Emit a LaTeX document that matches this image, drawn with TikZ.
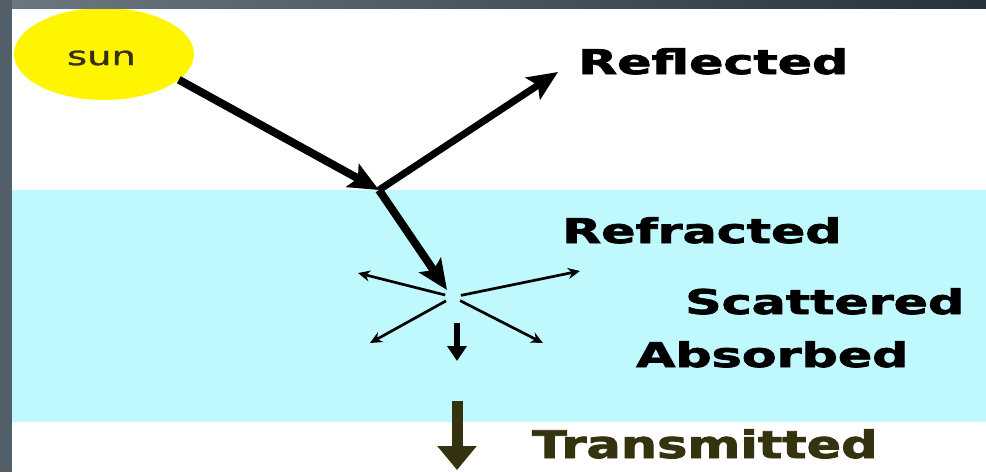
\documentclass[tikz,border=0pt]{standalone}
\usepackage{fontspec}
\setmainfont{DejaVu Sans}
\newfontfamily\heavyfont[FakeBold=2]{DejaVu Sans Bold}
\newfontfamily\sunfont[FakeBold=1]{DejaVu Sans}
\usetikzlibrary{shapes.geometric,arrows.meta}

\definecolor{framegray}{HTML}{525E68}
\definecolor{frametop}{HTML}{6C7881}
\definecolor{frameend}{HTML}{28323D}
\definecolor{water}{HTML}{C0F9FD}
\definecolor{sunyellow}{HTML}{FFF500}
\definecolor{olive}{HTML}{35330F}

\tikzset{
  lbl/.style={anchor=base west, inner sep=0pt, font=\heavyfont\fontsize{34}{34}\selectfont},
  beam/.style={line width=8pt, -{Stealth[length=30pt,width=26pt,inset=6pt]}},
  scatterbeam/.style={line width=2.7pt, shorten <=8pt, -{Stealth[length=12pt,width=11pt]}},
}

\begin{document}
\begin{tikzpicture}[x=1pt,y=-1pt]
    \useasboundingbox (0,0) rectangle (986,472);
    % background, water layer and frame
    \fill[white] (0,0) rectangle (986,472);
    \fill[water] (12,190) rectangle (986,422);
    \node[ellipse, fill=sunyellow, minimum width=180pt, minimum height=92pt, inner sep=0pt, text=olive, font=\sunfont\fontsize{26}{26}\selectfont] (sun) at (104,54) {\raisebox{-4pt}[\height][\depth]{\scalebox{1.48}[1]{sun}}\hspace*{5pt}};
    \shade[left color=frametop, right color=frameend] (0,0) rectangle (986,8);
    \fill[framegray] (0,0) rectangle (12,472);

    \coordinate (hit) at (379,190);
    \coordinate (refl) at (558,72);
    \coordinate (refr) at (447,290);
    \coordinate (scat) at (453,297);
    \coordinate (s1) at (358,273);
    \coordinate (s2) at (580,271);
    \coordinate (s3) at (370,343);
    \coordinate (s4) at (543,343);
    \coordinate (abs0) at (457,323);
    \coordinate (abs1) at (457,361);
    \coordinate (trn0) at (457,401);
    \coordinate (trn1) at (457,470);

    \draw[beam] (sun.-19) -- (hit);
    \draw[beam, line width=7pt] (hit) -- (refl);
    \draw[beam] (hit) -- (refr);
    \foreach \s in {s1,s2,s3,s4}
        \draw[scatterbeam] (scat) -- (\s);
    \draw[line width=5.5pt, -{Triangle[length=15pt,width=19pt]}] (abs0) -- (abs1);
    \draw[olive, line width=11pt, -{Triangle[length=24pt,width=38pt]}] (trn0) -- (trn1);

    \node[lbl] (reflected) at (578,74) {\scalebox{1.49}[1]{Reflected}};
    \node[lbl] (refracted) at (562,243) {\scalebox{1.49}[1]{Refracted}};
    \node[lbl] (scattered) at (685,314) {\scalebox{1.49}[1]{Scattered}};
    \node[lbl] (absorbed) at (636,367) {\scalebox{1.49}[1]{Absorbed}};
    \node[lbl, text=olive, font=\heavyfont\fontsize{38}{38}\selectfont] (transmitted) at (532,458) {\scalebox{1.34}[1]{Transmitted}};
\end{tikzpicture}
\end{document}
